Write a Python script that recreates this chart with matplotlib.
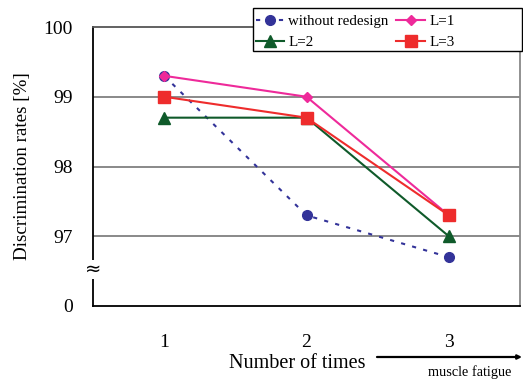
import matplotlib
matplotlib.use("Agg")
import matplotlib.pyplot as plt
from matplotlib.patches import Rectangle

plt.rcParams['font.family'] = ['Liberation Serif', 'DejaVu Serif']

times = [1, 2, 3]
without_redesign = [99.3, 97.3, 96.7]
L1 = [99.3, 99.0, 97.3]
L2 = [98.7, 98.7, 97.0]
L3 = [99.0, 98.7, 97.3]
ytick_vals = [96, 97, 98, 99, 100]
ytick_labels = ['0', '97', '98', '99', '100']

W, H = 523, 381
fig = plt.figure(figsize=(W / 100, H / 100), dpi=100)
ax = fig.add_axes([93 / W, 1 - 306 / H, (520 - 93) / W, (306 - 27) / H])

for y in [97, 98, 99]:
    ax.axhline(y, color='#808080', lw=1.3, zorder=1)

h0, = ax.plot(times, without_redesign, color='#333399', ls=(0, (2, 3.5)), lw=1.5,
              marker='o', ms=7, label='without redesign', zorder=3)
h1, = ax.plot(times, L1, color='#ee2a9a', lw=1.5, marker='D', ms=5.5,
              label='L=1', zorder=4)
h2, = ax.plot(times, L2, color='#0f5a2a', lw=1.5, marker='^', ms=8.5,
              label='L=2', zorder=3)
h3, = ax.plot(times, L3, color='#ee2c2c', lw=1.5, marker='s', ms=8.5,
              label='L=3', zorder=5)

ax.set_xlim(0.5, 3.5)
ax.set_ylim(96, 100)
ax.set_xticks(times)
ax.set_yticks(ytick_vals)
ax.set_yticklabels(ytick_labels)
ax.tick_params(length=0, labelsize=14)
ax.tick_params(axis='y', pad=14.5)
ax.tick_params(axis='x', pad=20)

ax.spines['left'].set_color('black')
ax.spines['bottom'].set_color('black')
ax.spines['top'].set_color('#555555')
ax.spines['right'].set_color('#888888')
for s in ax.spines.values():
    s.set_linewidth(1.3)

ax.set_ylabel('Discrimination rates [%]', fontsize=13.7, labelpad=9)

# axis break symbol
ax.text(0.5, 96.53, '≈', ha='center', va='center', fontsize=14,
        family=['DejaVu Sans'], zorder=6, clip_on=False,
        bbox=dict(boxstyle='square,pad=0.0', fc='white', ec='none'))

fig.text(297 / W, 1 - 364 / H, 'Number of times', ha='center', va='center', fontsize=14.5)
fig.text(470 / W, 1 - 372 / H, 'muscle fatigue', ha='center', va='center', fontsize=10.3)
ax.annotate('', xy=(522 / W, 1 - 357 / H), xytext=(377 / W, 1 - 357 / H),
            xycoords='figure fraction', textcoords='figure fraction',
            arrowprops=dict(arrowstyle='-|>', lw=1.6, color='black', mutation_scale=6,
                            shrinkA=0, shrinkB=0))

# legend frame (wider than content, as in the reference)
fig.add_artist(Rectangle((253 / W, 1 - 51 / H), (522 - 253) / W, (51 - 8) / H,
                         transform=fig.transFigure, fc='white', ec='black', lw=1.0,
                         zorder=4))
leg = fig.legend([h0, h2, h1, h3], ['without redesign', 'L=2', 'L=1', 'L=3'],
                 ncol=2, loc='upper left', bbox_to_anchor=(254 / W, 1 - 13 / H),
                 fontsize=10.8, frameon=False, borderpad=0.1,
                 handlelength=1.9, handletextpad=0.3, columnspacing=0.5,
                 labelspacing=0.5, borderaxespad=0)
leg.set_zorder(5)

fig.savefig('out.png', dpi=100)
